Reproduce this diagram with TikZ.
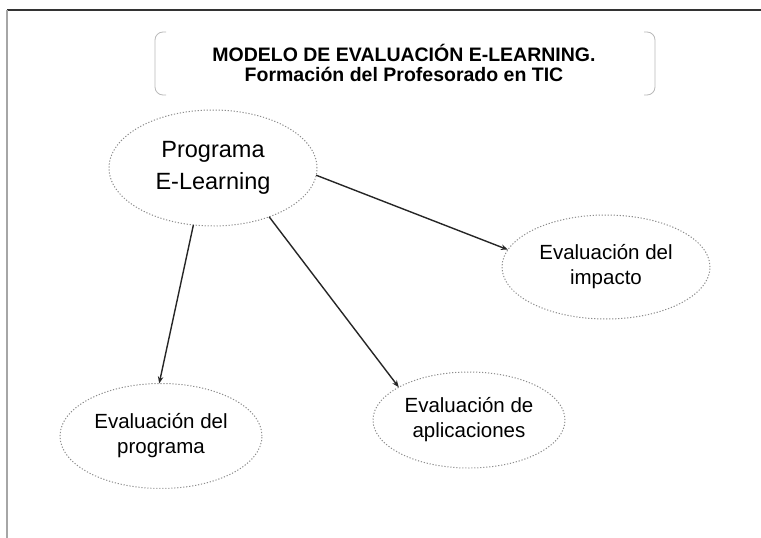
\documentclass[tikz,border=0pt]{standalone}
\usepackage{fontspec}
\setmainfont{Liberation Sans}
\usetikzlibrary{shapes.geometric,arrows.meta}
\tikzset{
  ell/.style={ellipse, draw=gray!90, dash pattern=on 1.2pt off 1.8pt, line width=1pt, inner sep=0pt, outer sep=0pt, align=center},
  smalltext/.style={font=\fontsize{20.5}{25}\selectfont},
  bigtext/.style={font=\fontsize{23.5}{32}\selectfont},
  conn/.style={draw=black!85, line width=1.4pt, -{Stealth[length=7pt,width=5.5pt]}},
  bracket/.style={draw=gray!55, line width=0.8pt, rounded corners=8pt}
}
\begin{document}
\begin{tikzpicture}[x=1pt,y=-1pt]
\useasboundingbox (0,0) rectangle (761,538);
% frame
\draw[black!80, line width=1.6pt] (7,10) -- (761,10);
\draw[gray!70, line width=1.6pt] (7,10) -- (7,538);
% title brackets
\draw[bracket] (166,32) -- (155,32) -- (155,95) -- (166,95);
\draw[bracket] (644,32) -- (655,32) -- (655,95) -- (644,95);
\node[font=\bfseries\fontsize{19.5}{20.5}\selectfont, align=center] (title) at (404,63)
  {MODELO DE EVALUACIÓN E-LEARNING.\\Formación del Profesorado en TIC};
% ellipses
\node[ell, bigtext, minimum width=208pt, minimum height=116pt] (prog) at (213,168) {Programa\\E-Learning};
\node[ell, smalltext, minimum width=208pt, minimum height=104pt] (imp) at (606,267) {Evaluación del\\impacto};
\node[ell, smalltext, minimum width=202pt, minimum height=105pt] (evp) at (161,436) {Evaluación del\\programa};
\node[ell, smalltext, minimum width=192pt, minimum height=96pt] (apl) at (469,420) {Evaluación de\\aplicaciones};
% connectors
\draw[conn] (prog.251) -- (evp.92);
\draw[conn] (prog.319) -- (apl.155);
\draw[conn] (prog.356) -- (imp.170);
\end{tikzpicture}
\end{document}
